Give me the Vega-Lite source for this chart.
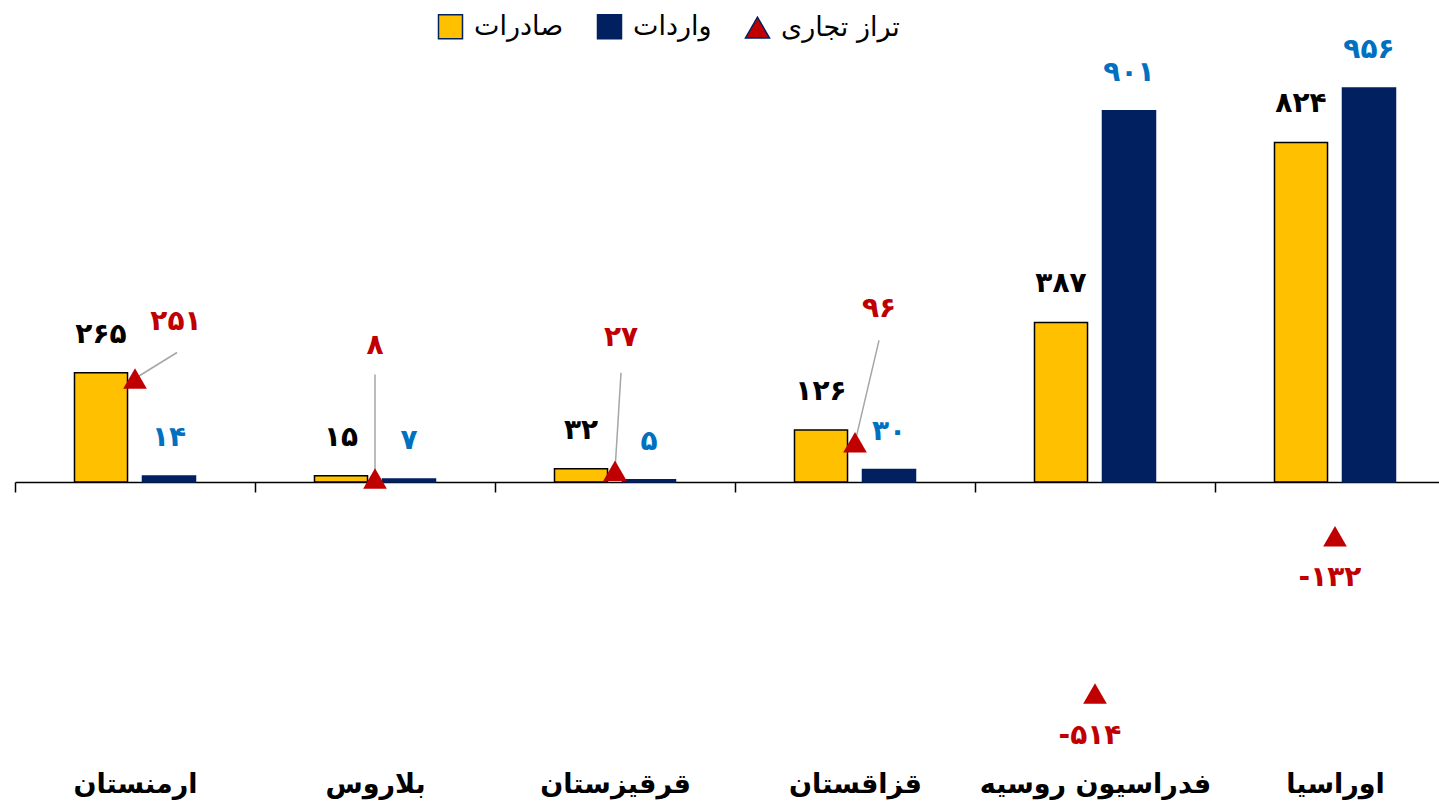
{
  "$schema": "https://vega.github.io/schema/vega-lite/v6.json",
  "autosize": "none",
  "width": 1424,
  "height": 659,
  "padding": {"left": 15, "top": 70, "right": 0, "bottom": 77},
  "config": {
    "view": {"stroke": null},
    "font": "DejaVu Sans",
    "locale": {"number": {"decimal": ".", "thousands": ",", "grouping": [3], "currency": ["", ""], "numerals": ["۰","۱","۲","۳","۴","۵","۶","۷","۸","۹"], "minus": "-"}}
  },
  "datasets": {
    "trade": [
      {"country": "ارمنستان", "series": "صادرات", "value": 265},
      {"country": "ارمنستان", "series": "واردات", "value": 14},
      {"country": "بلاروس", "series": "صادرات", "value": 15},
      {"country": "بلاروس", "series": "واردات", "value": 7},
      {"country": "قرقیزستان", "series": "صادرات", "value": 32},
      {"country": "قرقیزستان", "series": "واردات", "value": 5},
      {"country": "قزاقستان", "series": "صادرات", "value": 126},
      {"country": "قزاقستان", "series": "واردات", "value": 30},
      {"country": "فدراسیون روسیه", "series": "صادرات", "value": 387},
      {"country": "فدراسیون روسیه", "series": "واردات", "value": 901},
      {"country": "اوراسیا", "series": "صادرات", "value": 824},
      {"country": "اوراسیا", "series": "واردات", "value": 956}
    ],
    "bal": [
      {"country": "ارمنستان", "series": "تراز تجاری", "value": 251},
      {"country": "بلاروس", "series": "تراز تجاری", "value": 8},
      {"country": "قرقیزستان", "series": "تراز تجاری", "value": 27},
      {"country": "قزاقستان", "series": "تراز تجاری", "value": 96},
      {"country": "فدراسیون روسیه", "series": "تراز تجاری", "value": -514},
      {"country": "اوراسیا", "series": "تراز تجاری", "value": -132}
    ]
  },
  "encoding": {
    "x": {
      "field": "country", "type": "nominal",
      "sort": ["ارمنستان", "بلاروس", "قرقیزستان", "قزاقستان", "فدراسیون روسیه", "اوراسیا"],
      "scale": {"range": [0, 1440], "paddingInner": 0, "paddingOuter": 0},
      "axis": {
        "title": null, "orient": "bottom", "offset": -247, "labelAngle": 0,
        "domainColor": "black", "domainWidth": 1.5,
        "ticks": true, "tickBand": "extent", "tickSize": 10, "tickColor": "black", "tickWidth": 1.5,
        "labelPadding": 292, "labelBaseline": "middle", "labelFontSize": 27, "labelFontWeight": "bold", "labelColor": "black",
        "labelLimit": 400, "grid": false
      }
    },
    "y": {
      "field": "value", "type": "quantitative",
      "scale": {"domain": [-600, 1000], "nice": false},
      "axis": null
    }
  },
  "layer": [
    {
      "data": {"name": "trade"},
      "mark": {"type": "bar", "strokeWidth": 1.5},
      "encoding": {
        "xOffset": {"field": "series", "type": "nominal", "sort": ["صادرات", "واردات"], "scale": {"paddingInner": 0.22, "paddingOuter": 0.875}},
        "color": {
          "field": "series", "type": "nominal",
          "scale": {"domain": ["صادرات", "واردات", "تراز تجاری"], "range": ["#FFC000", "#002060", "#C00000"]},
          "legend": {
            "title": null, "orient": "none", "legendX": 422, "legendY": -57, "direction": "horizontal",
            "labelFontSize": 27, "labelColor": "black", "labelOffset": 10, "columnPadding": 30,
            "symbolSize": 576, "padding": 0, "labelLimit": 300,
            "encode": {"symbols": {"update": {"stroke": {"signal": "datum.value === 'صادرات' ? '#000000' : (datum.value === 'واردات' ? '#002060' : '#C00000')"}, "strokeWidth": {"signal": "datum.value === 'صادرات' ? 2 : 0"}}}}
          }
        },
        "stroke": {"condition": {"test": "datum.series === 'صادرات'", "value": "#000000"}, "value": "#002060"}
      }
    },
    {
      "data": {"name": "trade"},
      "mark": {"type": "text", "dy": -38, "baseline": "middle", "fontSize": 28, "fontWeight": "bold"},
      "encoding": {
        "xOffset": {"field": "series", "type": "nominal", "sort": ["صادرات", "واردات"]},
        "text": {"field": "value", "type": "quantitative", "format": "d"},
        "color": {"condition": {"test": "datum.series === 'صادرات'", "value": "#000000"}, "value": "#0070C0"}
      }
    },
    {
      "data": {"name": "bal"},
      "transform": [{"filter": "datum.country === 'ارمنستان'"}],
      "mark": {"type": "rule", "color": "#A6A6A6", "strokeWidth": 1.5, "x2Offset": 42, "y2Offset": -26},
      "encoding": {"x2": {"field": "country"}, "y2": {"field": "value"}}
    },
    {
      "data": {"name": "bal"},
      "transform": [{"filter": "datum.country === 'بلاروس'"}],
      "mark": {"type": "rule", "color": "#A6A6A6", "strokeWidth": 1.5, "x2Offset": 0, "y2Offset": -104},
      "encoding": {"x2": {"field": "country"}, "y2": {"field": "value"}}
    },
    {
      "data": {"name": "bal"},
      "transform": [{"filter": "datum.country === 'قرقیزستان'"}],
      "mark": {"type": "rule", "color": "#A6A6A6", "strokeWidth": 1.5, "x2Offset": 6, "y2Offset": -98},
      "encoding": {"x2": {"field": "country"}, "y2": {"field": "value"}}
    },
    {
      "data": {"name": "bal"},
      "transform": [{"filter": "datum.country === 'قزاقستان'"}],
      "mark": {"type": "rule", "color": "#A6A6A6", "strokeWidth": 1.5, "x2Offset": 24, "y2Offset": -102},
      "encoding": {"x2": {"field": "country"}, "y2": {"field": "value"}}
    },
    {
      "data": {"name": "bal"},
      "mark": {"type": "point", "filled": true, "size": 560, "opacity": 1},
      "encoding": {
        "color": {"field": "series", "type": "nominal"},
        "shape": {
          "field": "series", "type": "nominal",
          "scale": {"domain": ["صادرات", "واردات", "تراز تجاری"], "range": ["square", "square", "triangle-up"]},
          "legend": {"title": null}
        }
      }
    },
    {
      "data": {"name": "bal"},
      "transform": [{"filter": "datum.country === 'ارمنستان'"}],
      "mark": {"type": "text", "dx": 41, "dy": -56, "baseline": "middle", "fontSize": 28, "fontWeight": "bold", "color": "#C00000"},
      "encoding": {"text": {"field": "value", "type": "quantitative", "format": "d"}}
    },
    {
      "data": {"name": "bal"},
      "transform": [{"filter": "datum.country === 'بلاروس'"}],
      "mark": {"type": "text", "dx": 0, "dy": -133, "baseline": "middle", "fontSize": 28, "fontWeight": "bold", "color": "#C00000"},
      "encoding": {"text": {"field": "value", "type": "quantitative", "format": "d"}}
    },
    {
      "data": {"name": "bal"},
      "transform": [{"filter": "datum.country === 'قرقیزستان'"}],
      "mark": {"type": "text", "dx": 6, "dy": -133, "baseline": "middle", "fontSize": 28, "fontWeight": "bold", "color": "#C00000"},
      "encoding": {"text": {"field": "value", "type": "quantitative", "format": "d"}}
    },
    {
      "data": {"name": "bal"},
      "transform": [{"filter": "datum.country === 'قزاقستان'"}],
      "mark": {"type": "text", "dx": 24, "dy": -133, "baseline": "middle", "fontSize": 28, "fontWeight": "bold", "color": "#C00000"},
      "encoding": {"text": {"field": "value", "type": "quantitative", "format": "d"}}
    },
    {
      "data": {"name": "bal"},
      "transform": [{"filter": "datum.value < 0"}],
      "mark": {"type": "text", "dx": -5, "dy": 42, "baseline": "middle", "fontSize": 28, "fontWeight": "bold", "color": "#C00000"},
      "encoding": {"text": {"field": "value", "type": "quantitative", "format": "d"}}
    }
  ]
}
